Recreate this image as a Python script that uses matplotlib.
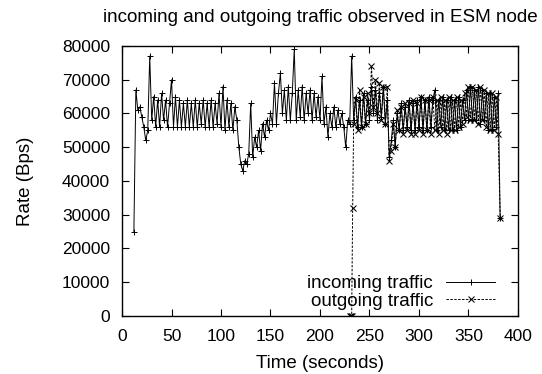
import matplotlib
matplotlib.use("Agg")
import matplotlib.pyplot as plt

plt.rcParams['font.family'] = ['Liberation Sans', 'DejaVu Sans']

# incoming traffic: samples every 2 s from t=12 to t=382 (values in kBps)
in_start, in_step = 12, 2
incoming_k = [
    25, 67, 61, 62, 59, 56, 52, 55, 77, 58,
    65, 56, 64, 56, 66, 58, 64, 56, 63, 70,
    56, 65, 56, 64, 56, 63, 56, 64, 56, 63,
    56, 64, 56, 63, 57, 64, 56, 63, 56, 64,
    56, 63, 57, 66, 56, 68, 55, 64, 56, 63,
    55, 62, 58, 50, 45, 43, 46, 45, 48, 63,
    47, 53, 50, 55, 49, 57, 53, 58, 55, 60,
    57, 69, 57, 66, 72, 60, 67, 58, 68, 58,
    66, 79, 58, 67, 59, 68, 58, 66, 60, 67,
    58, 66, 59, 65, 58, 71, 57, 62, 53, 60,
    56, 62, 56, 61, 57, 60, 56, 50, 58, 57,
    77, 58, 65, 56, 64, 56, 66, 57, 64, 58,
    68, 60, 67, 58, 66, 59, 68, 57, 64, 47,
    52, 58, 50, 60, 55, 63, 55, 62, 56, 64,
    55, 63, 55, 64, 56, 65, 55, 64, 55, 65,
    56, 64, 67, 55, 64, 56, 65, 55, 64, 55,
    65, 55, 64, 55, 65, 56, 64, 58, 67, 58,
    68, 58, 67, 58, 68, 57, 67, 58, 66, 55,
    66, 55, 65, 56, 66,
    29,
]

# outgoing traffic: first samples near t=230, then every 2 s up to t=382
out_first_t = [230, 231, 232, 233]
out_first_k = [0, 0, 0, 32]
out_start, out_step = 234, 2
outgoing_k = [
    57, 64, 55, 67, 56, 65, 57, 66, 60, 74,
    62, 70, 60, 69, 58, 68, 57, 68, 46, 49,
    57, 50, 61, 55, 62, 54, 63, 55, 63, 54,
    64, 54, 63, 55, 65, 54, 64, 55, 64, 54,
    65, 55, 64, 54, 65, 55, 64, 54, 65, 55,
    64, 55, 65, 56, 64, 57, 66, 59, 68, 58,
    68, 58, 67, 57, 68, 58, 67, 56, 66, 55,
    66, 55, 65, 54, 29,
]

x_ticks = [0, 50, 100, 150, 200, 250, 300, 350, 400]
y_ticks = [0, 10000, 20000, 30000, 40000, 50000, 60000, 70000, 80000]

in_t = [in_start + in_step * i for i in range(len(incoming_k))]
in_v = [v * 1000 for v in incoming_k]
out_t = out_first_t + [out_start + out_step * i for i in range(len(outgoing_k))]
out_v = [v * 1000 for v in out_first_k + outgoing_k]

fig = plt.figure(figsize=(5.42, 3.74), dpi=100)
ax = fig.add_axes([0.2251, 0.1551, 0.7306, 0.7219])

ax.plot(in_t, in_v, color='black', lw=0.7, marker='+', ms=4.5, mew=0.7,
        label='incoming traffic')
ax.plot(out_t, out_v, color='black', lw=0.7, ls=(0, (2.5, 1.5)), marker='x',
        ms=3.8, mew=0.75, label='outgoing traffic')

ax.set_xlim(0, 400)
ax.set_ylim(0, 80000)
ax.set_xticks(x_ticks)
ax.set_yticks(y_ticks)
ax.tick_params(direction='in', top=True, right=True, length=5, width=0.8,
               labelsize=12.5)
ax.tick_params(axis='x', pad=9.5)
ax.tick_params(axis='y', pad=8.6)
for s in ax.spines.values():
    s.set_linewidth(1.0)

ax.set_title('incoming and outgoing traffic observed in ESM node',
             fontsize=13.6, pad=17.5, x=0.5)
ax.set_xlabel('Time (seconds)', fontsize=13.5, labelpad=8)
ax.set_ylabel('Rate (Bps)', fontsize=13.5, labelpad=20)

ax.legend(loc='lower right', bbox_to_anchor=(0.942, 0.024), frameon=False,
          markerfirst=False, fontsize=13.5, handlelength=2.6,
          labelspacing=0.0, handletextpad=0.7, borderaxespad=0.0,
          borderpad=0.0, numpoints=1)

fig.savefig('out.png', dpi=100)
